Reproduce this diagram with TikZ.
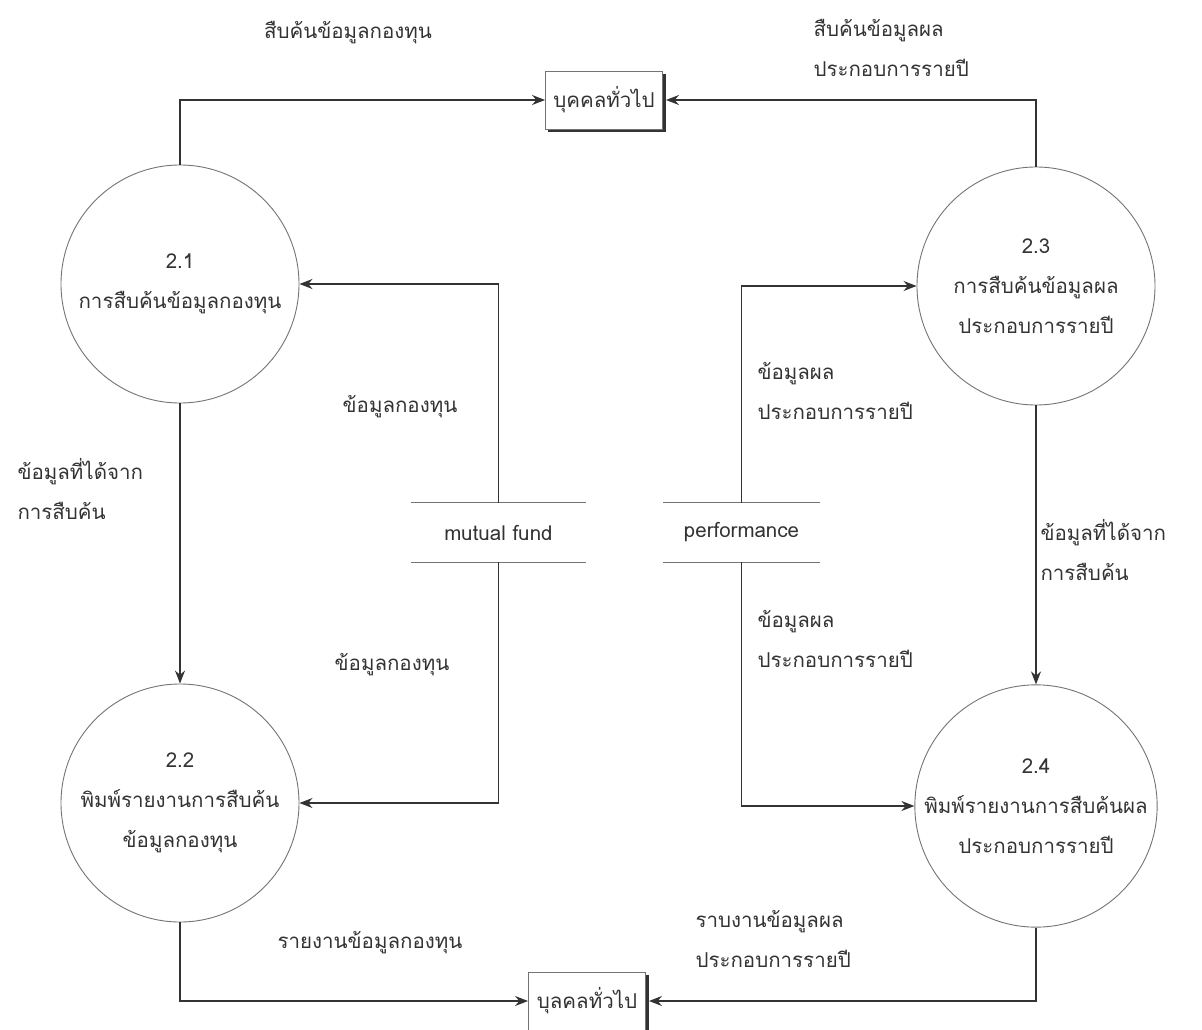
\documentclass[tikz,border=0pt]{standalone}
\usepackage{fontspec}
\setmainfont[Script=Thai]{Loma}
\usetikzlibrary{arrows.meta,calc}
\definecolor{ink}{gray}{0.2}
\definecolor{rim}{gray}{0.45}
\begin{document}
\begin{tikzpicture}[x=1pt,y=-1pt,
  every node/.style={text=ink,font=\fontsize{20.5}{40}\selectfont},
  process/.style={circle,draw=rim,line width=0.9pt,minimum size=238pt,align=center,inner sep=0pt},
  entity/.style={draw=rim,line width=0.9pt,fill=white,minimum width=117pt,minimum height=58pt},
  shade/.style={draw=ink,line width=2.2pt},
  store/.style={minimum height=59pt,inner sep=0pt},
  flow/.style={draw=ink,line width=1.3pt,-{Stealth[length=13pt,width=10pt]}},
  lbl/.style={align=left,anchor=west},
  lblc/.style={align=center}]
\useasboundingbox (0,0) rectangle (1202,1030);

% processes
\node[process] (c21) at (180,284) {2.1\\การสืบค้นข้อมูลกองทุน};
\node[process] (c22) at (180,803) {2.2\\พิมพ์รายงานการสืบค้น\\ข้อมูลกองทุน};
\node[process] (c23) at (1036,286) {2.3\\การสืบค้นข้อมูลผล\\ประกอบการรายปี};
\node[process] (c24) at (1036,806) {2.4\\พิมพ์รายงานการสืบค้นผล\\ประกอบการรายปี};

% external entities with a dark edge on the right and bottom
\node[entity] (top) at (604,100) {บุคคลทั่วไป};
\node[entity] (bot) at (587,1001) {บุลคลทั่วไป};
\foreach \b in {top,bot}{
  \draw[shade] ($(\b.north east)+(1.5,3)$) -- ($(\b.south east)+(1.5,1.5)$) -- ($(\b.south west)+(3,1.5)$);
}

% data stores
\node[store,minimum width=175pt] (mf) at (498.5,532.5) {mutual fund};
\node[store,minimum width=157pt] (pf) at (741.5,532.5) {performance};
\foreach \s in {mf,pf}{
  \draw[rim,line width=1.1pt] (\s.north west) -- (\s.north east);
  \draw[rim,line width=1.1pt] (\s.south west) -- (\s.south east);
}

% data flows
\draw[flow] (c21.north) |- (top.west);
\draw[flow] (c23.north) |- ($(top.east)+(3,0)$);
\draw[flow] (mf.north) |- (c21.east);
\draw[flow] (mf.south) |- (c22.east);
\draw[flow] (pf.north) |- (c23.west);
\draw[flow] (pf.south) |- (c24.west);
\draw[flow] (c21.south) -- (c22.north);
\draw[flow] (c23.south) -- (c24.north);
\draw[flow] (c22.south) |- (bot.west);
\draw[flow] (c24.south) |- ($(bot.east)+(3,0)$);

% flow labels
\node[lblc] (l1) at (348,33) {สืบค้นข้อมูลกองทุน};
\node[lbl] (l2) at (810,48) {สืบค้นข้อมูลผล\\ประกอบการรายปี};
\node[lblc] (l3) at (400,407) {ข้อมูลกองทุน};
\node[lbl] (l4) at (14,489) {ข้อมูลที่ได้จาก\\การสืบค้น};
\node[lbl] (l5) at (754,391) {ข้อมูลผล\\ประกอบการรายปี};
\node[lbl] (l6) at (1037,550) {ข้อมูลที่ได้จาก\\การสืบค้น};
\node[lblc] (l7) at (392,665) {ข้อมูลกองทุน};
\node[lbl] (l8) at (754,639) {ข้อมูลผล\\ประกอบการรายปี};
\node[lblc] (l9) at (370,943) {รายงานข้อมูลกองทุน};
\node[lbl] (l10) at (692,939) {ราบงานข้อมูลผล\\ประกอบการรายปี};
\end{tikzpicture}
\end{document}
